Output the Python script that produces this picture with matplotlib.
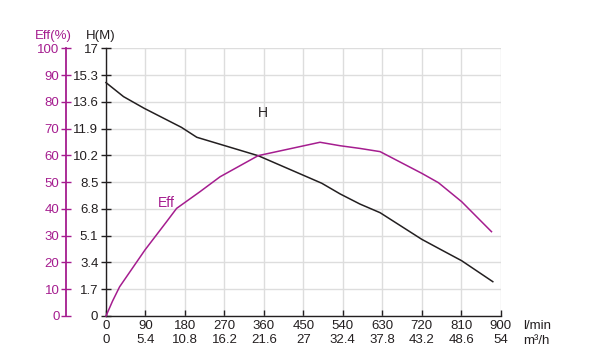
import numpy as np
import matplotlib.pyplot as plt

plt.rcParams['font.family'] = ['Liberation Sans', 'DejaVu Sans']

MAG = '#a51d8f'
DARK = '#231f20'
FS = 9.5

# flow (l/min) and head (m)
h_flow = [0, 40, 87, 172, 207, 347, 492, 534, 579, 625, 720, 762, 811, 882]
h_head = [14.82, 13.93, 13.19, 11.98, 11.35, 10.18, 8.43, 7.75, 7.11, 6.56, 4.87, 4.24, 3.51, 2.18]

# flow (l/min) and efficiency (%)
e_flow = [0, 15, 31, 89, 138, 161, 214, 260, 347, 488, 534, 579, 625, 720, 758, 811, 879]
e_eff = [0, 5.6, 10.9, 24.7, 35.2, 40.2, 46.4, 52.0, 59.9, 64.9, 63.6, 62.6, 61.4, 53.3, 49.8, 42.7, 31.5]

lmin_ticks = [0, 90, 180, 270, 360, 450, 540, 630, 720, 810, 900]
m3h_labels = ['0', '5.4', '10.8', '16.2', '21.6', '27', '32.4', '37.8', '43.2', '48.6', '54']
h_ticks = [0, 1.7, 3.4, 5.1, 6.8, 8.5, 10.2, 11.9, 13.6, 15.3, 17]
h_labels = ['0', '1.7', '3.4', '5.1', '6.8', '8.5', '10.2', '11.9', '13.6', '15.3', '17']
eff_ticks = [0, 10, 20, 30, 40, 50, 60, 70, 80, 90, 100]

fig = plt.figure(figsize=(5.9, 3.6), dpi=100)
ax = fig.add_axes([106 / 590, 44 / 360, 394.7 / 590, 267.7 / 360])

ax.set_xlim(0, 900)
ax.set_ylim(0, 17)
ax.set_xticks(lmin_ticks)
ax.set_xticklabels([f'{a}\n{b}' for a, b in zip(lmin_ticks, m3h_labels)],
                   fontsize=FS, color=DARK, linespacing=1.25)
ax.set_yticks(h_ticks)
ax.set_yticklabels(h_labels, fontsize=FS, color=DARK)
ax.grid(True, color='#dddddd', lw=1)
ax.set_axisbelow(True)
for s in ['top', 'right']:
    ax.spines[s].set_visible(False)
for s in ['left', 'bottom']:
    ax.spines[s].set_color(DARK)
    ax.spines[s].set_linewidth(1)
ax.tick_params(axis='y', direction='inout', length=7, width=1, color=DARK, pad=2)
ax.tick_params(axis='x', direction='in', length=4, width=1, color=DARK, pad=3)

ax.plot(h_flow, h_head, color=DARK, lw=1.1, clip_on=False)

ax2 = ax.twinx()
ax2.set_ylim(0, 100)
ax2.spines['left'].set_position(('outward', 29))
ax2.yaxis.set_ticks_position('left')
ax2.yaxis.set_label_position('left')
for s in ['top', 'right', 'bottom']:
    ax2.spines[s].set_visible(False)
ax2.spines['left'].set_color(MAG)
ax2.spines['left'].set_linewidth(1.3)
ax2.set_yticks(eff_ticks)
ax2.set_yticklabels([str(t) for t in eff_ticks], fontsize=FS, color=MAG)
ax2.tick_params(axis='y', direction='inout', length=7, width=1, color=MAG, pad=1)
ax2.plot(e_flow, e_eff, color=MAG, lw=1.1, clip_on=False)

fig.text(53 / 590, 1 - 36 / 360, 'Eff(%)', color=MAG, fontsize=FS, ha='center', va='center')
fig.text(101 / 590, 1 - 36 / 360, 'H(M)', color=DARK, fontsize=FS, ha='center', va='center')
fig.text(523 / 590, 1 - 326 / 360, 'l/min', color=DARK, fontsize=FS, ha='left', va='center')
fig.text(523 / 590, 1 - 341 / 360, 'm³/h', color=DARK, fontsize=FS, ha='left', va='center')

ax.text(357, 12.9, 'H', color=DARK, fontsize=10, ha='center', va='center')
ax.text(138, 7.16, 'Eff', color=MAG, fontsize=10, ha='center', va='center')

fig.savefig('out.png', dpi=100)
